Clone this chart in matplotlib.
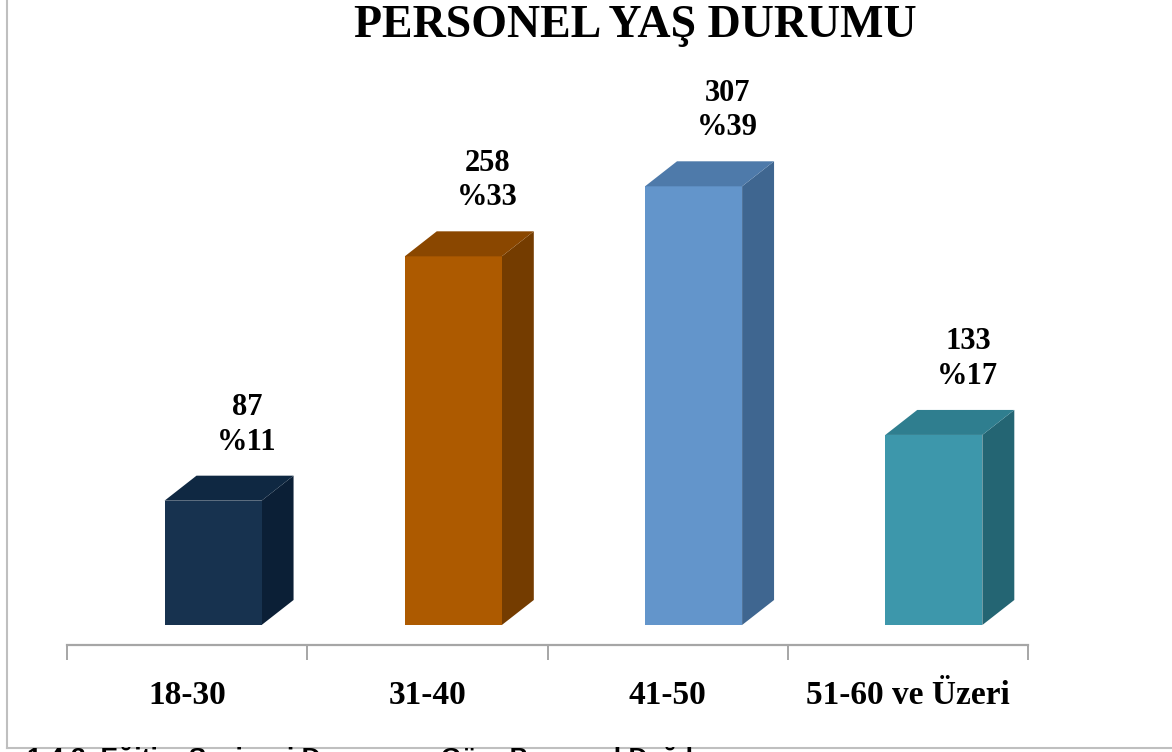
import matplotlib
matplotlib.use("Agg")
import matplotlib.pyplot as plt
from matplotlib.patches import Polygon
from matplotlib.lines import Line2D
import numpy as np

categories = ["18-30", "31-40", "41-50", "51-60 ve Üzeri"]
counts = [87, 258, 307, 133]
percents = [11, 33, 39, 17]

front_colors = ["#17324F", "#AD5A00", "#6395CB", "#3D97AB"]
top_colors = ["#0F2842", "#8A4700", "#4E7AAA", "#2F7E8F"]
side_colors = ["#0B1F36", "#743C00", "#3F6690", "#246573"]

W, H = 1172, 752
fig = plt.figure(figsize=(W / 100, H / 100), dpi=100)
fig.patch.set_facecolor("white")

# axes placed so the category axis sits where the reference has it
ax = fig.add_axes([67 / W, 107 / H, 961 / W, 563 / H])
ax.set_xlim(-0.5, 3.5)
ax.set_ylim(-14, 380)

x = np.arange(len(categories))
offset = 0.108      # front face is shifted right of the slot centre
bar_w = 0.404
dx, dy = 0.133, 17.5  # depth of the fake 3D box

for i, v in enumerate(counts):
    x0 = x[i] + offset - bar_w / 2
    x1 = x[i] + offset + bar_w / 2
    ax.bar(x[i] + offset, v, width=bar_w, color=front_colors[i], zorder=3)
    top = Polygon([(x0, v), (x1, v), (x1 + dx, v + dy), (x0 + dx, v + dy)],
                  closed=True, facecolor=top_colors[i], edgecolor="none", zorder=3)
    side = Polygon([(x1, 0), (x1, v), (x1 + dx, v + dy), (x1 + dx, dy)],
                   closed=True, facecolor=side_colors[i], edgecolor="none", zorder=2)
    ax.add_patch(top)
    ax.add_patch(side)
    ax.text(x[i] + 0.25, v + 53, f"{v}\n%{percents[i]}", ha="center", va="center",
            fontsize=22, fontweight="bold", family="Liberation Serif",
            linespacing=1.25, zorder=4)

for s in ["top", "right", "left"]:
    ax.spines[s].set_visible(False)
ax.spines["bottom"].set_color("#A6A6A6")
ax.spines["bottom"].set_linewidth(1.6)
ax.set_yticks([])

ax.set_xticks(np.arange(-0.5, 4, 1))
ax.set_xticklabels([])
ax.tick_params(axis="x", which="major", length=11, width=1.4, color="#A6A6A6")
ax.set_xticks(x, minor=True)
ax.set_xticklabels(categories, minor=True)
ax.tick_params(axis="x", which="minor", length=0, pad=25)
for lbl in ax.get_xticklabels(minor=True):
    lbl.set_fontsize(24)
    lbl.set_fontweight("bold")
    lbl.set_family("Liberation Serif")

fig.text(635 / W, 1 - 26 / H, "PERSONEL YAŞ DURUMU", ha="center", va="center",
         fontsize=33, fontweight="bold", family="Liberation Serif")

# chart area border (left and bottom visible in the crop)
fig.add_artist(Line2D([7 / W, 7 / W], [4 / H, 1], color="#BFBFBF", lw=1.5))
fig.add_artist(Line2D([7 / W, 1], [4 / H, 4 / H], color="#BFBFBF", lw=1.5))

# caption of the next section, cut off at the bottom edge as in the reference
fig.text(27 / W, 5 / H, "1.4.3. Eğitim Seviyesi Durumuna Göre Personel Dağılımı",
         ha="left", va="top", fontsize=19, fontweight="bold", family="Liberation Sans")

fig.savefig("out.png", dpi=100)
